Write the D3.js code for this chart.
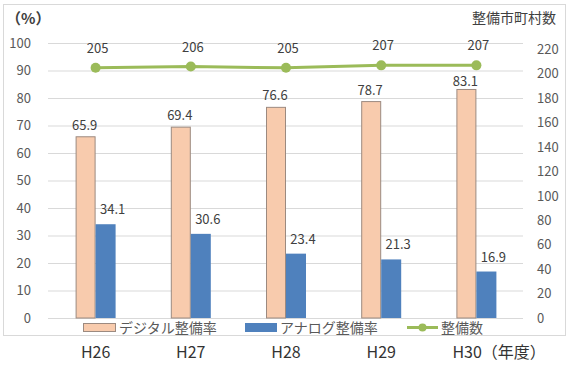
<!DOCTYPE html>
<html>
<head>
<meta charset="utf-8">
<script src="https://cdn.jsdelivr.net/npm/d3@7"></script>
<style>
body { margin:0; background:#fff; }
text { font-family:"Noto Sans CJK JP","Noto Sans",sans-serif; }
</style>
</head>
<body>
<div id="chart"></div>
<script>
// data
var years = ["H26","H27","H28","H29","H30"];
var yearLabels = ["H26","H27","H28","H29","H30（年度）"];
var digital = [65.9, 69.4, 76.6, 78.7, 83.1];
var analog = [34.1, 30.6, 23.4, 21.3, 16.9];
var counts = [205, 206, 205, 207, 207];
var leftTicks = [0,10,20,30,40,50,60,70,80,90,100];
var rightTicks = [0,20,40,60,80,100,120,140,160,180,200,220];

var width = 570, height = 365;
var svg = d3.select("#chart").append("svg")
    .attr("width", width)
    .attr("height", height);

// outer frame
svg.append("rect")
    .attr("x", 3.5).attr("y", 4.5)
    .attr("width", 562).attr("height", 331)
    .attr("fill", "none")
    .attr("stroke", "#d9d9d9");

var x = d3.scaleBand().domain(years).range([48,524]);
var y = d3.scaleLinear().domain([0,100]).range([318,43]);
var y2 = d3.scaleLinear().domain([0,220]).range([318,49.5]);

// gridlines
svg.append("g").selectAll("line")
    .data(leftTicks)
  .enter().append("line")
    .attr("x1", 48).attr("x2", 523)
    .attr("y1", function(d){ return y(d)+0.5; })
    .attr("y2", function(d){ return y(d)+0.5; })
    .attr("stroke", "#d9d9d9");

// left axis labels
svg.append("g").selectAll("text")
    .data(leftTicks)
  .enter().append("text")
    .attr("x", 31)
    .attr("y", function(d){ return y(d); })
    .attr("dy", "0.35em")
    .attr("text-anchor", "end")
    .attr("font-size", 13)
    .attr("fill", "#595959")
    .text(function(d){ return d; });

// right axis labels
svg.append("g").selectAll("text")
    .data(rightTicks)
  .enter().append("text")
    .attr("x", 537)
    .attr("y", function(d){ return y2(d); })
    .attr("dy", "0.35em")
    .attr("font-size", 13)
    .attr("fill", "#595959")
    .text(function(d){ return d; });

svg.append("text")
    .attr("x", 6).attr("y", 24)
    .attr("font-size", 15).attr("font-weight", "bold").attr("fill", "#404040")
    .text("（%）");
svg.append("text")
    .attr("x", 556).attr("y", 23)
    .attr("text-anchor", "end")
    .attr("font-size", 14).attr("fill", "#404040")
    .text("整備市町村数");

var bw = 20;
// digital bars
svg.append("g").selectAll("rect")
    .data(digital)
  .enter().append("rect")
    .attr("x", function(d,i){ return x(years[i]) + x.bandwidth()/2 - bw + 0.5; })
    .attr("y", function(d){ return y(d); })
    .attr("width", bw - 1)
    .attr("height", function(d){ return y(0) - y(d); })
    .attr("fill", "#F8CBAD")
    .attr("stroke", "#9c8a80");

// analog bars
svg.append("g").selectAll("rect")
    .data(analog)
  .enter().append("rect")
    .attr("x", function(d,i){ return x(years[i]) + x.bandwidth()/2; })
    .attr("y", function(d){ return y(d); })
    .attr("width", bw)
    .attr("height", function(d){ return y(0) - y(d); })
    .attr("fill", "#4F81BD");

// bar labels (pushed down if they would hit the line)
svg.append("g").selectAll("text")
    .data(digital)
  .enter().append("text")
    .attr("x", function(d,i){ return x(years[i]) + x.bandwidth()/2 - bw/2 - 1; })
    .attr("y", function(d){ return y(d) - 7 < 88 ? y(d) - 3 : y(d) - 7; })
    .attr("text-anchor", "middle")
    .attr("font-size", 13).attr("fill", "#404040")
    .text(function(d){ return d.toFixed(1); });
svg.append("g").selectAll("text")
    .data(analog)
  .enter().append("text")
    .attr("x", function(d,i){ return x(years[i]) + x.bandwidth()/2 + bw/2 + 7; })
    .attr("y", function(d){ return y(d) - 10; })
    .attr("text-anchor", "middle")
    .attr("font-size", 13).attr("fill", "#404040")
    .text(function(d){ return d.toFixed(1); });

// line
var line = d3.line()
    .x(function(d,i){ return x(years[i]) + x.bandwidth()/2; })
    .y(function(d){ return y2(d); });
svg.append("path")
    .datum(counts)
    .attr("d", line)
    .attr("fill", "none")
    .attr("stroke", "#9BBB59")
    .attr("stroke-width", 3);
svg.append("g").selectAll("circle")
    .data(counts)
  .enter().append("circle")
    .attr("cx", function(d,i){ return x(years[i]) + x.bandwidth()/2; })
    .attr("cy", function(d){ return y2(d); })
    .attr("r", 5)
    .attr("fill", "#9BBB59");
svg.append("g").selectAll("text")
    .data(counts)
  .enter().append("text")
    .attr("x", function(d,i){ return x(years[i]) + x.bandwidth()/2 + 2; })
    .attr("y", function(d){ return y2(d) - 15; })
    .attr("text-anchor", "middle")
    .attr("font-size", 13).attr("fill", "#404040")
    .text(function(d){ return d; });

// legend
var lg = svg.append("g").attr("font-size", 14).attr("fill", "#595959");
lg.append("rect").attr("x", 83.5).attr("y", 323.5).attr("width", 32).attr("height", 8)
    .attr("fill", "#F8CBAD").attr("stroke", "#9c8a80");
lg.append("text").attr("x", 119).attr("y", 333).text("デジタル整備率");
lg.append("rect").attr("x", 245).attr("y", 323).attr("width", 32).attr("height", 9)
    .attr("fill", "#4F81BD");
lg.append("text").attr("x", 280).attr("y", 333).text("アナログ整備率");
lg.append("line").attr("x1", 407).attr("x2", 438).attr("y1", 327.5).attr("y2", 327.5)
    .attr("stroke", "#9BBB59").attr("stroke-width", 3);
lg.append("circle").attr("cx", 422.5).attr("cy", 327.5).attr("r", 4).attr("fill", "#9BBB59");
lg.append("text").attr("x", 441).attr("y", 333).text("整備数");

// x labels; the last one carries the unit and starts at the tick's left
svg.append("g").selectAll("text")
    .data(years)
  .enter().append("text")
    .attr("x", function(d,i){ return x(d) + x.bandwidth()/2 - (i === years.length-1 ? 24 : 0); })
    .attr("y", 358)
    .attr("text-anchor", function(d,i){ return i === years.length-1 ? "start" : "middle"; })
    .attr("font-size", 16).attr("fill", "#333")
    .text(function(d,i){ return yearLabels[i]; });
</script>
</body>
</html>
